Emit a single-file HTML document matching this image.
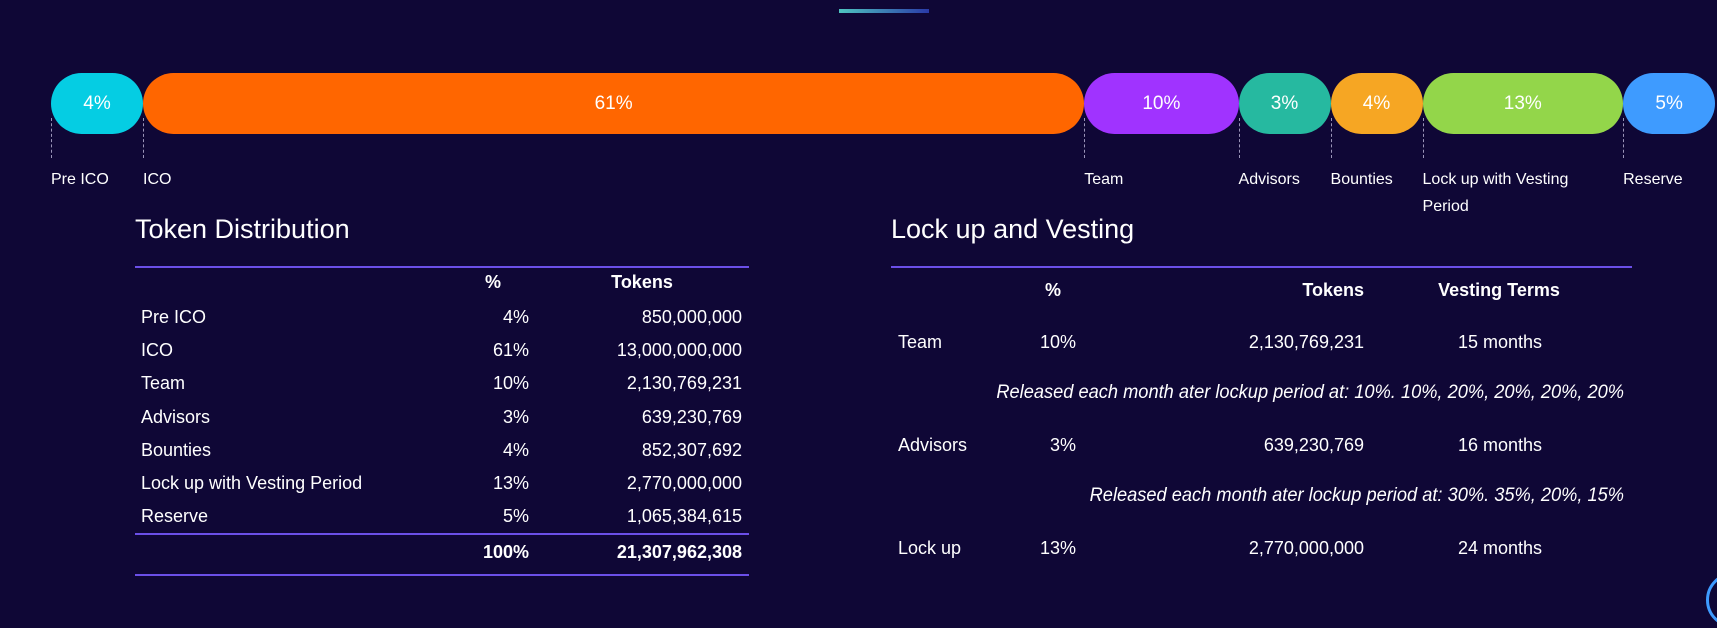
<!DOCTYPE html>
<html><head><meta charset="utf-8"><style>
body{margin:0;background:#0f0736;width:1717px;height:591px;overflow:hidden;position:relative;font-family:"Liberation Sans",sans-serif;color:#fff}
.a{position:absolute;white-space:nowrap}
.seg{position:absolute;top:73px;height:61px;border-radius:31px;display:flex;align-items:center;justify-content:center;font-size:19px}
.dash{position:absolute;top:118px;height:40px;border-left:1px dashed #9a94b8}
.lbl{position:absolute;top:166px;font-size:16px;line-height:27px;white-space:normal}
.line{position:absolute;height:2px;background:#6b4fe8}
.r{text-align:right}.c{text-align:center}
.t{font-size:18px}
.b{font-weight:bold}
.i{font-style:italic;font-size:19px;transform:scaleX(0.96);transform-origin:right}
</style></head><body>
<div class="a" style="left:839px;top:9px;width:90px;height:4px;background:linear-gradient(90deg,#4fc4c0,#2a3aa8)"></div>
<div id="bar"></div>

<div class="a" style="left:135px;top:214px;font-size:27px">Token Distribution</div>
<div class="line" style="left:135px;top:266px;width:614px"></div>
<div class="line" style="left:135px;top:533px;width:614px"></div>
<div class="line" style="left:135px;top:574px;width:614px"></div>
<div id="td"></div>

<div class="a" style="left:891px;top:214px;font-size:27px">Lock up and Vesting</div>
<div class="line" style="left:891px;top:266px;width:741px"></div>
<div>
<div class="a t b" style="left:1033px;top:280px;width:40px;text-align:center">%</div>
<div class="a t b r" style="left:1200px;top:280px;width:164px">Tokens</div>
<div class="a t b c" style="left:1409px;top:280px;width:180px">Vesting Terms</div>

<div class="a t" style="left:898px;top:332px">Team</div>
<div class="a t r" style="left:1000px;top:332px;width:76px">10%</div>
<div class="a t r" style="left:1200px;top:332px;width:164px">2,130,769,231</div>
<div class="a t c" style="left:1410px;top:332px;width:180px">15 months</div>
<div class="a i r" style="left:824px;top:382px;width:800px">Released each month ater lockup period at: 10%. 10%, 20%, 20%, 20%, 20%</div>

<div class="a t" style="left:898px;top:435px">Advisors</div>
<div class="a t r" style="left:1000px;top:435px;width:76px">3%</div>
<div class="a t r" style="left:1200px;top:435px;width:164px">639,230,769</div>
<div class="a t c" style="left:1410px;top:435px;width:180px">16 months</div>
<div class="a i r" style="left:824px;top:485px;width:800px">Released each month ater lockup period at: 30%. 35%, 20%, 15%</div>

<div class="a t" style="left:898px;top:538px">Lock up</div>
<div class="a t r" style="left:1000px;top:538px;width:76px">13%</div>
<div class="a t r" style="left:1200px;top:538px;width:164px">2,770,000,000</div>
<div class="a t c" style="left:1410px;top:538px;width:180px">24 months</div>
</div>
<div class="a" style="left:1706px;top:572px;width:50px;height:50px;border-radius:50%;border:3px solid #3e9bff"></div>

<script>
const labels=["Pre ICO","ICO","Team","Advisors","Bounties","Lock up with Vesting Period","Reserve"];
const percents=[4,61,10,3,4,13,5];
const tokens=["850,000,000","13,000,000,000","2,130,769,231","639,230,769","852,307,692","2,770,000,000","1,065,384,615"];
const colors=["#05cde3","#ff6600","#a033ff","#26b9a0","#f6a623","#93d64a","#3e9bff"];
const totalPct="100%", totalTokens="21,307,962,308";
const bar=document.getElementById('bar');
function w(p){return Math.max(92,p*15.43);}
let x=51;
percents.forEach((p,i)=>{
  const s=document.createElement('div');s.className='seg';
  
  
  s.style.left=x+'px';s.style.width=w(p)+'px';s.style.background=colors[i];s.textContent=p+'%';
  bar.appendChild(s);
  const d=document.createElement('div');d.className='dash';
  
  
  d.style.left=x+'px';bar.appendChild(d);
  const l=document.createElement('div');l.className='lbl';
  
  
  l.style.left=x+'px';l.style.width=(i==5?170:Math.max(80,w(p)))+'px';l.textContent=labels[i];
  bar.appendChild(l);
  x+=w(p);
});
const td=document.getElementById('td');
function cell(txt,cls,left,top,width,name){
  const e=document.createElement('div');e.className='a t '+cls;
  
  
  e.style.left=left+'px';e.style.top=top+'px';if(width)e.style.width=width+'px';e.textContent=txt;td.appendChild(e);
}
cell('%','b c',473,272,40,'td-head-pct');
cell('Tokens','b c',582,272,120,'td-head-tokens');
labels.forEach((lb,i)=>{
  const y=307+i*33.2;
  cell(lb,'',141,y,0,'td-row-label');
  cell(percents[i]+'%','r',450,y,79,'td-row-pct');
  cell(tokens[i],'r',560,y,182,'td-row-tokens');
});
cell(totalPct,'b r',450,542,79,'td-total-pct');
cell(totalTokens,'b r',540,542,202,'td-total-tokens');
</script>
</body></html>
